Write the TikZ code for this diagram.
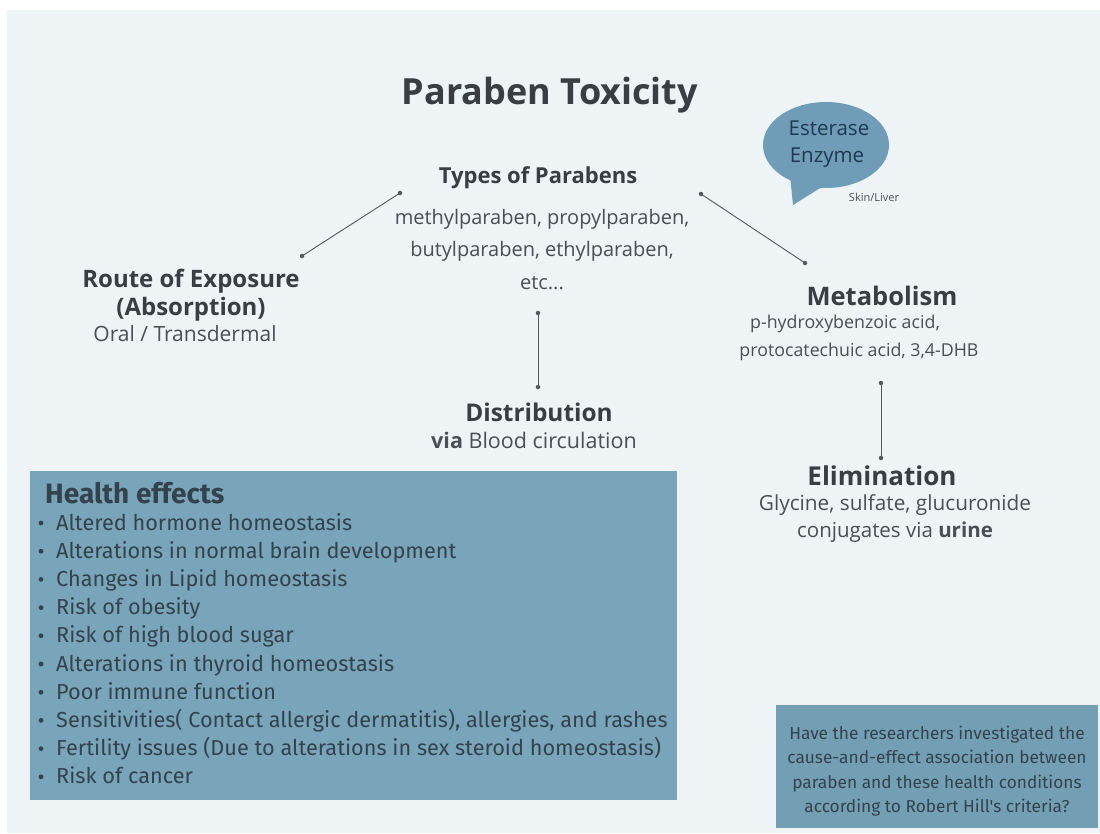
\documentclass[tikz,border=0pt]{standalone}
\usepackage{fontspec}
\setmainfont{Open Sans}
\newfontfamily\listfont{Fira Sans}
\usetikzlibrary{positioning}
\definecolor{panel}{HTML}{EEF3F6}
\definecolor{boxfill}{HTML}{79A5BB}
\definecolor{qfill}{HTML}{739FB5}
\definecolor{bubble}{HTML}{6F9CB6}
\definecolor{titlec}{HTML}{3A3E43}
\definecolor{bodyc}{HTML}{4A4F55}
\definecolor{bubtext}{HTML}{1E3A50}
\definecolor{listc}{HTML}{34424C}
\definecolor{linec}{HTML}{55595E}
\tikzset{
  head/.style={text=titlec,font=\fontsize{25}{28}\selectfont\bfseries,inner sep=0pt,anchor=center},
  body/.style={text=bodyc,font=\fontsize{20}{32}\selectfont,inner sep=0pt,anchor=center},
  conn/.style={draw=linec,line width=0.9pt},
  enddot/.style={fill=linec,circle,inner sep=0pt,minimum size=4.5pt},
  itemtext/.style={text=listc,font=\listfont\fontsize{21.7}{24}\selectfont,inner sep=0pt,anchor=base west},
}
\begin{document}
\begin{tikzpicture}[x=1pt,y=-1pt]
\useasboundingbox (0,0) rectangle (1100,833);
\fill[white] (0,0) rectangle (1100,833);
\fill[panel] (7,10) rectangle (1100,833);

% title
\node[text=titlec,font=\fontsize{36}{40}\selectfont\bfseries,inner sep=0pt] (title) at (550,95) {Paraben Toxicity};

% types
\node[head,font=\fontsize{22}{26}\selectfont\bfseries] (types) at (538,178) {Types of Parabens};
\node[body] (t1) at (542,219) {methylparaben, propylparaben,};
\node[body] (t2) at (542,251) {butylparaben, ethylparaben,};
\node[body] (t3) at (542,283) {etc...};

% route
\node[head,font=\fontsize{24}{28}\selectfont\bfseries] (route1) at (191,281) {Route of Exposure};
\node[head,font=\fontsize{24}{28}\selectfont\bfseries] (route2) at (191,309) {(Absorption)};
\node[body,font=\fontsize{21}{26}\selectfont] (route3) at (185,334) {Oral / Transdermal};

% metabolism
\node[head,font=\fontsize{25.5}{28}\selectfont\bfseries] (met) at (882,296) {Metabolism};
\node[body,font=\fontsize{17.8}{24}\selectfont] (m1) at (845,324) {p-hydroxybenzoic acid,};
\node[body,font=\fontsize{17.8}{24}\selectfont] (m2) at (859,352) {protocatechuic acid, 3,4-DHB};

% distribution
\node[head,font=\fontsize{24.4}{28}\selectfont\bfseries] (dist) at (539,412) {Distribution};
\node[body,font=\fontsize{21.5}{26}\selectfont] (d1) at (534,440) {\textbf{via} Blood circulation};

% elimination
\node[head,font=\fontsize{26}{30}\selectfont\bfseries] (elim) at (882,476) {Elimination};
\node[body,font=\fontsize{20.8}{26}\selectfont] (e1) at (895,505) {Glycine, sulfate, glucuronide};
\node[body,font=\fontsize{20.5}{26}\selectfont] (e2) at (895,532) {conjugates via \textbf{urine}};

% connectors
\coordinate (a1) at (400,193); \coordinate (a2) at (302,256);
\coordinate (b1) at (701,194); \coordinate (b2) at (805,263);
\coordinate (c1) at (538,313); \coordinate (c2) at (538,387);
\coordinate (d1c) at (881,383); \coordinate (d2c) at (881,458);
\draw[conn] (a1) -- (a2);
\draw[conn] (b1) -- (b2);
\draw[conn] (c1) -- (c2);
\draw[conn] (d1c) -- (d2c);
\foreach \p in {a1,a2,b1,b2,c1,c2,d1c,d2c} \node[enddot] at (\p) {};

% speech bubble
\fill[bubble] (826,145) ellipse [x radius=63, y radius=43];
\fill[bubble] (789,165) -- (793,205) -- (833,180) -- cycle;
\node[text=bubtext,font=\fontsize{20.5}{30}\selectfont,inner sep=0pt] (est1) at (829,128) {Esterase};
\node[text=bubtext,font=\fontsize{20.5}{30}\selectfont,inner sep=0pt] (est2) at (827,158) {Enzyme};
\node[text=bodyc,font=\fontsize{11}{12}\selectfont,inner sep=0pt] (skin) at (874,197) {Skin/Liver};

% health effects box
\fill[boxfill] (30,471) rectangle (677,800);
\node[text=listc,font=\listfont\fontsize{28}{30}\selectfont\bfseries,inner sep=0pt,anchor=base west] (he) at (45,503) {Health effects};
\foreach \t [count=\i from 0] in {
 Altered hormone homeostasis,
 Alterations in normal brain development,
 Changes in Lipid homeostasis,
 Risk of obesity,
 Risk of high blood sugar,
 Alterations in thyroid homeostasis,
 Poor immune function,
 {Sensitivities( Contact allergic dermatitis), allergies, and rashes},
 {Fertility issues (Due to alterations in sex steroid homeostasis)},
 Risk of cancer}{
  \node[itemtext] (it\i) at (56,{530+28.2*\i}) {\t};
  \fill[listc] (41,{523+28.2*\i}) circle (2.4);
}

% question box
\fill[qfill] (776,705) rectangle (1098,828);
\node[text=listc,font=\listfont\fontsize{17.3}{24.5}\selectfont,align=center,inner sep=0pt] (q) at (937,771)
 {Have the researchers investigated the\\cause-and-effect association between\\paraben and these health conditions\\according to Robert Hill's criteria?};
\end{tikzpicture}
\end{document}
